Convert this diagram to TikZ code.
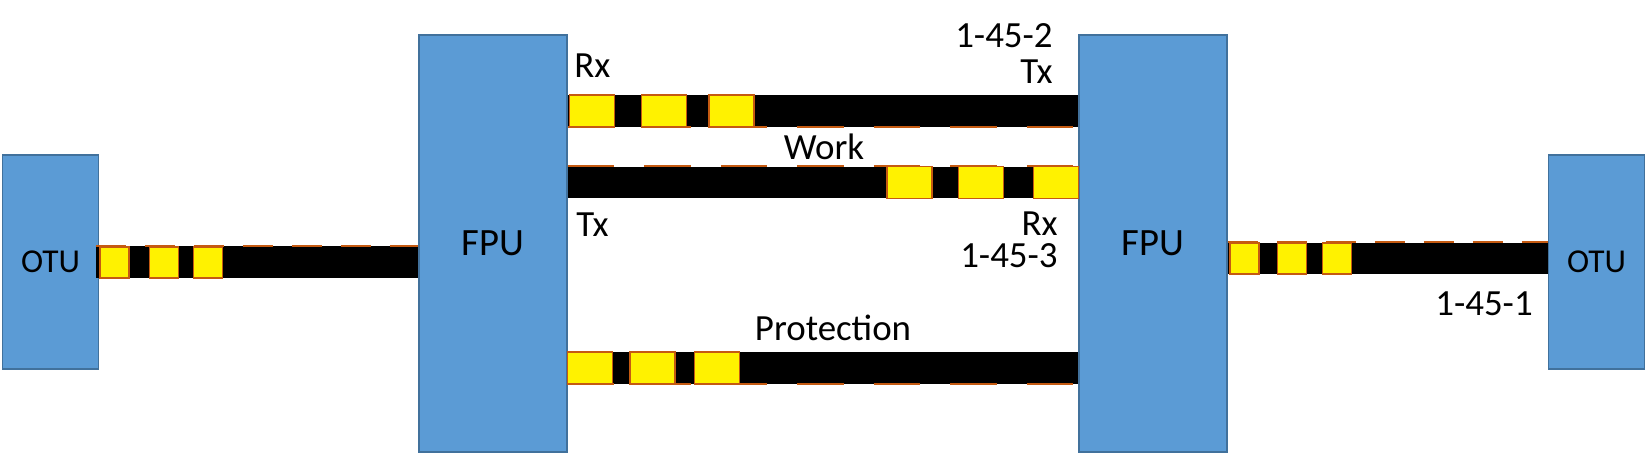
\documentclass[tikz,border=0pt]{standalone}
\usepackage{fontspec}
\setmainfont{Carlito}
\definecolor{boxblue}{RGB}{91,155,213}
\definecolor{boxline}{RGB}{65,113,156}
\definecolor{cellline}{RGB}{197,90,17}
\begin{document}
\begin{tikzpicture}[x=0.02cm,y=-0.02cm,
box node/.style={rectangle,draw=boxline,fill=boxblue,line width=1pt,inner sep=0pt,font=\fontsize{22}{26}\selectfont},
otu node/.style={box node,minimum width=1.92cm,minimum height=4.28cm,font=\fontsize{19}{23}\selectfont},
fpu node/.style={box node,minimum width=2.96cm,minimum height=8.34cm},
fiber/.style={draw=black,line width=0.64cm},
short cell/.style={rectangle,draw=cellline,fill=yellow,line width=1pt,minimum width=0.58cm,minimum height=0.62cm,inner sep=0pt},
long cell/.style={short cell,minimum width=0.9cm,minimum height=0.64cm},
short dash/.style={draw=cellline,line width=1.1pt,dash pattern=on 0.6cm off 0.38cm},
long dash/.style={draw=cellline,line width=1.1pt,dash pattern=on 0.93cm off 0.6cm},
label/.style={inner sep=0pt,font=\fontsize{21}{25}\selectfont}]
\useasboundingbox (0,0) rectangle (1650,453);
\node[otu node] (otu1) at (50.5,262) {OTU};%1
\node[fpu node] (fpu1) at (493,243.5) {FPU};%2
\node[fpu node] (fpu2) at (1153,243.5) {FPU};%3
\node[otu node] (otu2) at (1596.5,262) {OTU};%4
% fibers
\draw[fiber] ([xshift=-2]otu1.east |- 0,262) -- (fpu1.west |- 0,262);
\draw[fiber] (fpu1.east |- 0,111) -- (fpu2.west |- 0,111);
\draw[fiber] (fpu1.east |- 0,182.5) -- (fpu2.west |- 0,182.5);
\draw[fiber] (fpu1.east |- 0,368) -- (fpu2.west |- 0,368);
\draw[fiber] (fpu2.east |- 0,258.5) -- (otu2.west |- 0,258.5);
% edge dashes
\draw[short dash] ([xshift=-2]otu1.east |- 0,246) -- (fpu1.west |- 0,246);
\draw[long dash] (fpu1.east |- 0,127) -- (fpu2.west |- 0,127);
\draw[long dash] (fpu1.east |- 0,166) -- (fpu2.west |- 0,166);
\draw[long dash] (fpu1.east |- 0,384) -- (fpu2.west |- 0,384);
\draw[short dash] (fpu2.east |- 0,242) -- (otu2.west |- 0,242);
% cells
\foreach \x in {114.5,164,208} \node[short cell] at (\x,262.5) {};
\foreach \x in {1244.5,1292,1337} \node[short cell] at (\x,258.5) {};
\foreach \x in {592,664,731.5} \node[long cell] at (\x,111) {};
\foreach \x in {909.5,981,1056} \node[long cell] at (\x,182.5) {};
\foreach \x in {590,652.5,717} \node[long cell] at (\x,368) {};
% labels
\begin{scope}[every node/.style={label}]
\node[anchor=base west] (rx1) at (574,77) {Rx};
\node[anchor=base east,align=right,font=\fontsize{21}{20.4}\selectfont] (p2) at (1053,83) {1-45-2\\Tx};
\node[anchor=base] (work) at (824,159) {Work};
\node[anchor=base west] (tx2) at (576,236) {Tx};
\node[anchor=base east,align=right,font=\fontsize{21}{18.1}\selectfont] (p3) at (1058,267) {Rx\\1-45-3};
\node[anchor=base] (prot) at (833,340) {Protection};
\node[anchor=base] (p1) at (1484,315) {1-45-1};
\end{scope}
\end{tikzpicture}
\end{document}
